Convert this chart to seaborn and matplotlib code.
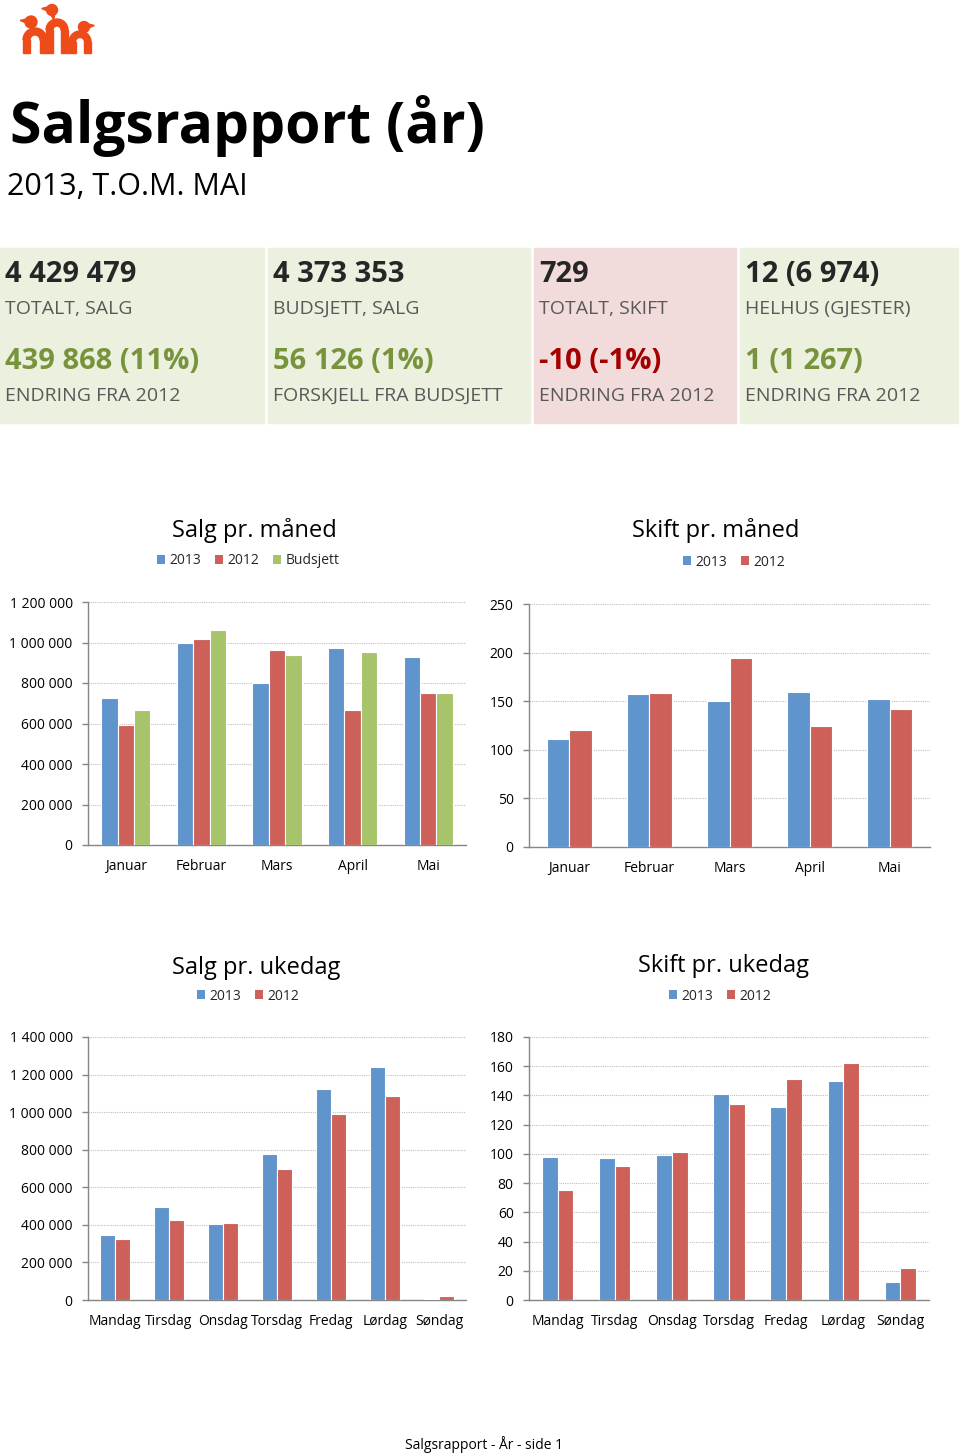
import matplotlib
matplotlib.use("Agg")
import matplotlib.pyplot as plt
from matplotlib.patches import Rectangle, Wedge, Circle, Polygon, Patch
from matplotlib.ticker import FuncFormatter, MultipleLocator
import seaborn as sns
import pandas as pd

# ---- data ----
kpi_values = ['4 429 479', '4 373 353', '729', '12 (6 974)']
kpi_labels = ['TOTALT, SALG', 'BUDSJETT, SALG', 'TOTALT, SKIFT', 'HELHUS (GJESTER)']
kpi_changes = ['439 868 (11%)', '56 126 (1%)', '-10 (-1%)', '1 (1 267)']
kpi_change_labels = ['ENDRING FRA 2012', 'FORSKJELL FRA BUDSJETT', 'ENDRING FRA 2012', 'ENDRING FRA 2012']

months = ['Januar', 'Februar', 'Mars', 'April', 'Mai']
salg_mnd_2013 = [727000, 998000, 799000, 975000, 929000]
salg_mnd_2012 = [592000, 1016000, 965000, 666000, 751000]
salg_mnd_budsjett = [669000, 1060000, 940000, 953000, 753000]
skift_mnd_2013 = [111, 157, 150, 159, 152]
skift_mnd_2012 = [120, 158, 194, 125, 142]

weekdays = ['Mandag', 'Tirsdag', 'Onsdag', 'Torsdag', 'Fredag', 'Lørdag', 'Søndag']
salg_uke_2013 = [346000, 496000, 402000, 778000, 1124000, 1240000, 3000]
salg_uke_2012 = [324000, 424000, 411000, 696000, 991000, 1088000, 20000]
skift_uke_2013 = [98, 97, 99, 141, 132, 150, 12]
skift_uke_2012 = [75, 92, 101, 134, 151, 162, 22]

BLUE, RED, GREEN = '#6094CC', '#CD615A', '#A8C46B'
W, H = 960, 1453

sns.set_theme(style='white')
plt.rcParams['font.family'] = ['Open Sans', 'DejaVu Sans']

fig = plt.figure(figsize=(W / 100, H / 100), dpi=100)


def fx(x):
    return x / W


def fy(y):
    return 1 - y / H


def px_axes(x0, y0, x1, y1):
    return fig.add_axes([fx(x0), fy(y1), (x1 - x0) / W, (y1 - y0) / H])


# ---- logo ----
LOGO = '#EE4B1A'
lax = px_axes(15, 0, 100, 58)
lax.set_xlim(15, 100)
lax.set_ylim(58, 0)
lax.set_aspect('equal')
lax.axis('off')
# (arch center x, arch center y, outer r, width, head x, head y, head r, beak direction)
penguins = [(35, 40, 12, 7, 31, 22, 6, -1), (57, 30, 11, 7, 52, 10, 5.5, -1), (80, 42, 11, 6.5, 84, 27, 5.5, 1)]
for cx, cy, r, w, hx, hy, hr, d in penguins:
    lax.add_patch(Wedge((cx, cy), r, 180, 360, width=w, color=LOGO))
    lax.add_patch(Rectangle((cx - r, cy), w, 53 - cy, color=LOGO))
    lax.add_patch(Rectangle((cx + r - w, cy), w, 53 - cy, color=LOGO))
    lax.add_patch(Circle((hx, hy), hr, color=LOGO))
    lax.add_patch(Polygon([(hx - hr * 0.6, hy), (hx + hr * 0.6, hy), (cx + 0.3 * r * (1 if hx > cx else -1), cy - r + 1)], color=LOGO))
    bx = hx + d * hr * 0.8
    lax.add_patch(Polygon([(bx, hy - 3), (bx + d * 6, hy - 1.5), (bx, hy + 1)], color=LOGO))

# ---- header ----
fig.text(fx(10), fy(143), 'Salgsrapport (år)', fontsize=41, fontweight='bold', color='#000000', va='baseline')
fig.text(fx(7), fy(195), '2013, T.O.M. MAI', fontsize=22, color='#000000', va='baseline')

# ---- KPI boxes ----
boxes = [(0, 264, '#EBF1DE'), (268, 530, '#EBF1DE'), (534, 736, '#F2DCDB'), (740, 958, '#EBF1DE')]
change_colors = ['#77933C', '#77933C', '#A50000', '#77933C']
for i, (x0, x1, bg) in enumerate(boxes):
    fig.add_artist(Rectangle((fx(x0), fy(423)), (x1 - x0) / W, (423 - 248) / H,
                             transform=fig.transFigure, color=bg, zorder=0))
    tx = fx(x0 + 5)
    fig.text(tx, fy(282), kpi_values[i], fontsize=21, fontweight='bold', color='#262626', va='baseline')
    fig.text(tx, fy(314), kpi_labels[i], fontsize=14, color='#595959', va='baseline')
    fig.text(tx, fy(369), kpi_changes[i], fontsize=21, fontweight='bold', color=change_colors[i], va='baseline')
    fig.text(tx, fy(401), kpi_change_labels[i], fontsize=14, color='#595959', va='baseline')


def space_fmt(v, pos):
    return f"{int(round(v)):,}".replace(',', ' ')


def draw_chart(box, cats, series, colors, ymax, ystep, width, title, title_xy, legend_xy):
    ax = px_axes(*box)
    rows = []
    for name, vals in series.items():
        for c, v in zip(cats, vals):
            rows.append({'Kategori': c, 'Serie': name, 'Verdi': v})
    df = pd.DataFrame(rows)
    sns.barplot(data=df, x='Kategori', y='Verdi', hue='Serie', palette=colors,
                width=width, saturation=1, edgecolor='white', linewidth=0.8,
                legend=False, ax=ax, zorder=3)
    ax.set_xlim(-0.5, len(cats) - 0.5)
    ax.set_ylim(0, ymax)
    ax.yaxis.set_major_locator(MultipleLocator(ystep))
    ax.yaxis.set_major_formatter(FuncFormatter(space_fmt))
    ax.set_xlabel('')
    ax.set_ylabel('')
    ax.set_facecolor('none')
    ax.yaxis.grid(True, linestyle=(0, (1, 1)), color='#BFBFBF', linewidth=0.8, zorder=0)
    ax.set_axisbelow(True)
    for s in ['top', 'right']:
        ax.spines[s].set_visible(False)
    for s in ['left', 'bottom']:
        ax.spines[s].set_color('#868686')
        ax.spines[s].set_linewidth(1)
    ax.set_xticks([i - 0.5 for i in range(len(cats) + 1)], minor=True)
    ax.tick_params(axis='x', which='minor', length=5, color='#868686', width=1, direction='out')
    ax.tick_params(axis='x', which='major', length=0, pad=10, labelsize=10, labelcolor='#000000')
    ax.tick_params(axis='y', length=4, color='#868686', width=1, direction='out', pad=7,
                   labelsize=10, labelcolor='#000000', left=True)
    fig.text(fx(title_xy[0]), fy(title_xy[1]), title, fontsize=17, ha='center', va='baseline', color='#000000')
    handles = [Patch(facecolor=c, edgecolor='none') for c in colors]
    fig.legend(handles, list(series.keys()), loc='center', bbox_to_anchor=(fx(legend_xy[0]), fy(legend_xy[1])),
               ncol=len(colors), frameon=False, fontsize=10, handlelength=0.6, handleheight=0.6,
               handletextpad=0.3, columnspacing=1.0, borderpad=0)
    return ax


draw_chart((88, 602, 466, 845), months,
           {'2013': salg_mnd_2013, '2012': salg_mnd_2012, 'Budsjett': salg_mnd_budsjett},
           [BLUE, RED, GREEN], 1200000, 200000, 0.65, 'Salg pr. måned', (254, 537), (248, 561))
draw_chart((529, 604, 930, 847), months,
           {'2013': skift_mnd_2013, '2012': skift_mnd_2012},
           [BLUE, RED], 250, 50, 0.56, 'Skift pr. måned', (716, 537), (734, 562))
draw_chart((88, 1037, 466, 1300), weekdays,
           {'2013': salg_uke_2013, '2012': salg_uke_2012},
           [BLUE, RED], 1400000, 200000, 0.56, 'Salg pr. ukedag', (256, 974), (248, 996))
draw_chart((529, 1037, 929, 1300), weekdays,
           {'2013': skift_uke_2013, '2012': skift_uke_2012},
           [BLUE, RED], 180, 20, 0.55, 'Skift pr. ukedag', (724, 972), (720, 996))

fig.text(fx(484), fy(1449), 'Salgsrapport - År - side 1', fontsize=10, ha='center', va='baseline', color='#000000')

fig.savefig('out.png', dpi=100)
